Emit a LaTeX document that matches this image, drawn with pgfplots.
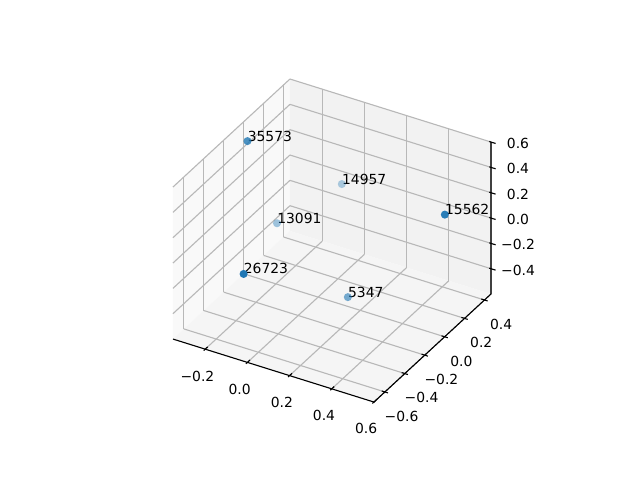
\documentclass[border=0pt]{standalone}
\usepackage{pgfplots}
\usepackage{fontspec}
\setmainfont{DejaVu Sans}
\pgfplotsset{compat=1.18}
\definecolor{tabblue}{HTML}{1F77B4}
\definecolor{gridgray}{HTML}{B8B8B8}
\newcommand{\pt}[5]{%
  \addplot3[only marks, mark=*, mark size=2.9pt, mark options={draw opacity=0, fill=tabblue, fill opacity=#4}, forget plot] coordinates {(#1,#2,#3)};
  \node[anchor=base west, inner sep=0pt, font=\fontsize{10}{12}\selectfont] at (axis cs:#1,#2,#3) {#5};%
}
\begin{document}
\begin{tikzpicture}
\begin{axis}[
  name=ax, at={(0,0)}, anchor=origin,
  x={(151.85pt,-47.6pt)}, y={(71.7pt,66.2pt)}, z={(0pt,91.2pt)},
  xmin=-0.353, xmax=0.6, ymin=-0.71, ymax=0.465, zmin=-0.6, zmax=0.6,
  set layers=standard, clip=false,
  axis line style={draw=none},
  grid=major, grid style={gridgray, line width=0.8pt},
  major tick length=0pt, tick style={draw=none},
  xtick={-0.2,0,0.2,0.4,0.6}, xticklabels={−0.2,0.0,0.2,0.4,0.6},
  ytick={-0.6,-0.4,-0.2,0,0.2,0.4}, yticklabels={−0.6,−0.4,−0.2,0.0,0.2,0.4},
  ztick={-0.4,-0.2,0,0.2,0.4,0.6}, zticklabels={−0.4,−0.2,0.0,0.2,0.4,0.6},
  xtick pos=left, ytick pos=left, ztick pos=right,
  xticklabel pos=left, yticklabel pos=left, zticklabel pos=right,
  tick label style={font=\fontsize{10}{12}\selectfont, inner sep=0pt},
  x tick label style={anchor=center, xshift=-5.6pt, yshift=-19.3pt},
  y tick label style={anchor=center, xshift=12pt, yshift=-17.5pt},
  z tick label style={anchor=center, xshift=19.5pt, yshift=-1pt},
]
\addplot3[on layer=axis background, fill=black!2.5, draw=none, forget plot] coordinates {(-0.353,-0.71,-0.6) (-0.353,0.465,-0.6) (-0.353,0.465,0.6) (-0.353,-0.71,0.6)};
\addplot3[on layer=axis background, fill=black!5, draw=none, forget plot] coordinates {(-0.353,0.465,-0.6) (0.6,0.465,-0.6) (0.6,0.465,0.6) (-0.353,0.465,0.6)};
\addplot3[on layer=axis background, fill=black!3.75, draw=none, forget plot] coordinates {(-0.353,-0.71,-0.6) (0.6,-0.71,-0.6) (0.6,0.465,-0.6) (-0.353,0.465,-0.6)};
\draw[black, line width=0.8pt] (axis cs:-0.353,-0.71,-0.6) -- (axis cs:0.6,-0.71,-0.6) -- (axis cs:0.6,0.465,-0.6) -- (axis cs:0.6,0.465,0.6);
% ticks along the three drawn axis lines only
\pgfplotsinvokeforeach{-0.2,0,0.2,0.4,0.6}{\draw[black, line width=0.8pt] (axis cs:#1,-0.725,-0.6) -- (axis cs:#1,-0.685,-0.6);}
\pgfplotsinvokeforeach{-0.6,-0.4,-0.2,0,0.2,0.4}{\draw[black, line width=0.8pt] (axis cs:0.585,#1,-0.6) -- (axis cs:0.615,#1,-0.6);}
\pgfplotsinvokeforeach{-0.4,-0.2,0,0.2,0.4,0.6}{\draw[black, line width=0.8pt] (axis cs:0.592,0.465,#1) -- (axis cs:0.622,0.465,#1);}
\pt{-0.096}{0.4415}{-0.078}{0.35}{14957}
\pt{-0.248}{0.1125}{-0.228}{0.42}{13091}
\pt{0.117}{0.051}{-0.576}{0.6}{5347}
\pt{-0.277}{-0.1225}{0.576}{0.8}{35573}
\pt{0.581}{0.042}{0.324}{0.95}{15562}
\pt{-0.029}{-0.6865}{0.066}{1}{26723}
\end{axis}
\useasboundingbox (-229.03pt,-186.4pt) rectangle (231.77pt,159.2pt);
\end{tikzpicture}
\end{document}
